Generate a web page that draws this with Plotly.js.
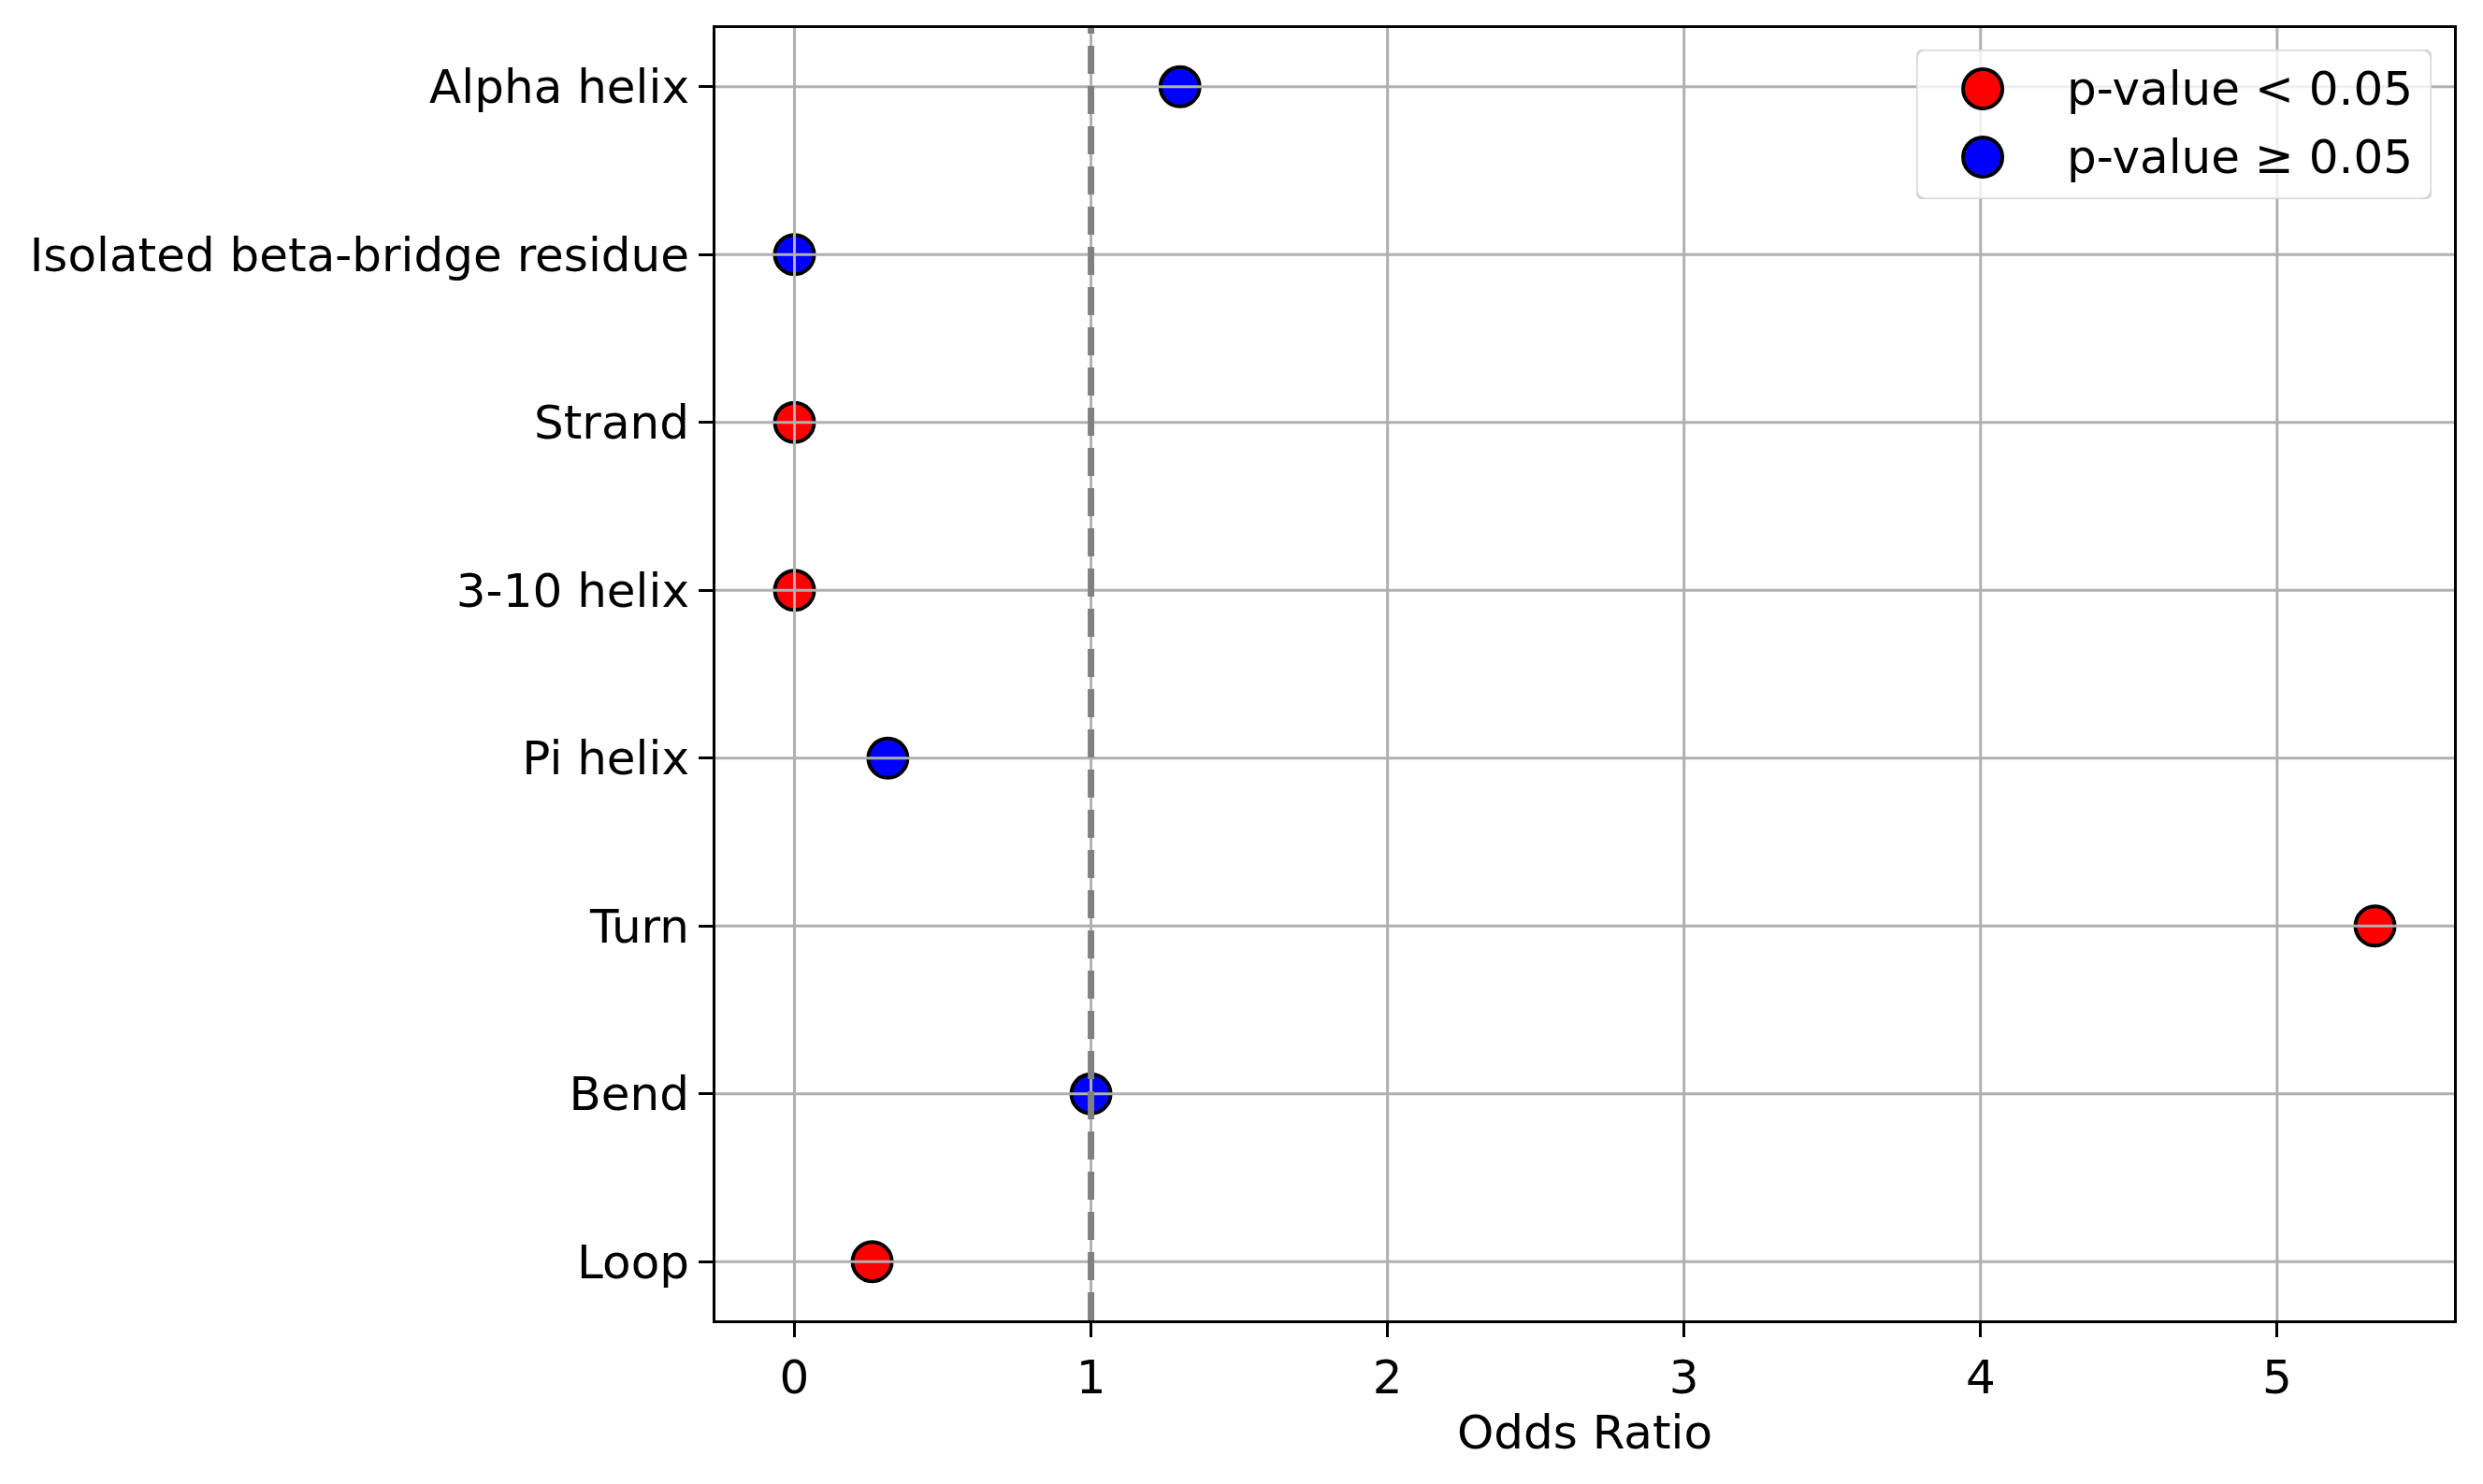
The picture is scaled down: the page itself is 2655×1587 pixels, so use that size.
<!DOCTYPE html>
<html>
<head>
<meta charset="utf-8">
<script src="https://cdn.plot.ly/plotly-3.0.1.min.js"></script>
<style>
  html, body { margin: 0; padding: 0; background: #ffffff; }
</style>
</head>
<body>
<div id="chart" style="width:2655px;height:1587px;"></div>
<script>
// Secondary structure odds ratios, top to bottom
const categories = ['Alpha helix', 'Isolated beta-bridge residue', 'Strand', '3-10 helix',
                    'Pi helix', 'Turn', 'Bend', 'Loop'];
const oddsRatio = [1.30, 0, 0, 0, 0.315, 5.33, 1.0, 0.262];
const significant = [false, false, true, true, false, true, false, true];
const xTicks = [0, 1, 2, 3, 4, 5];
const referenceOR = 1;

const legendLabels = ['p-value &lt; 0.05', 'p-value ≥ 0.05'];
const legendColors = ['#ff0000', '#0000ff'];

const FONT = 'DejaVu Sans, Liberation Sans, sans-serif';

// split points by significance
function pick(flag) {
  let x = [];
  let y = [];
  for (let i = 0; i < categories.length; i++) {
    if (significant[i] === flag) {
      x.push(oddsRatio[i]);
      y.push(categories[i]);
    }
  }
  return {x: x, y: y};
}

const sig = pick(true);
const nonsig = pick(false);

const markerStyle = function (color) {
  return {color: color, size: 42, line: {color: '#000000', width: 4}};
};

let data = [
  { x: sig.x, y: sig.y, type: 'scatter', mode: 'markers', name: 'p-value < 0.05',
    marker: markerStyle(legendColors[0]), showlegend: false },
  { x: nonsig.x, y: nonsig.y, type: 'scatter', mode: 'markers', name: 'p-value ≥ 0.05',
    marker: markerStyle(legendColors[1]), showlegend: false }
];

// grid drawn as shapes so it sits over the markers, like matplotlib does
const gridLine = {color: '#b0b0b0', width: 3};
let shapes = [];
for (const t of xTicks) {
  shapes.push({ type: 'line', xref: 'x', yref: 'paper', x0: t, x1: t, y0: 0, y1: 1,
    line: gridLine, layer: 'above' });
}
for (const c of categories) {
  shapes.push({ type: 'line', xref: 'paper', yref: 'y', x0: 0, x1: 1, y0: c, y1: c,
    line: gridLine, layer: 'above' });
}
shapes.push({ type: 'line', xref: 'x', yref: 'paper', x0: referenceOR, x1: referenceOR, y0: 0, y1: 1,
  line: {color: '#808080', width: 7, dash: '30px,13px'}, layer: 'above' });

// legend: rounded frame in its own small axes, then the keys on top
const rx = 0.02, ry = 0.07;
const framePath = 'M ' + rx + ',0 L ' + (1 - rx) + ',0 Q 1,0 1,' + ry +
  ' L 1,' + (1 - ry) + ' Q 1,1 ' + (1 - rx) + ',1 L ' + rx + ',1 Q 0,1 0,' + (1 - ry) +
  ' L 0,' + ry + ' Q 0,0 ' + rx + ',0 Z';
shapes.push({ type: 'path', xref: 'x2', yref: 'y2', path: framePath,
  fillcolor: 'rgba(255,255,255,0.8)', line: {color: '#d6d6d6', width: 3}, layer: 'above' });

const legendRows = [0.7375, 0.28125];
legendColors.forEach(function (col, i) {
  shapes.push({ type: 'circle', xref: 'x2', yref: 'y2', xsizemode: 'pixel', ysizemode: 'pixel',
    xanchor: 0.129, yanchor: legendRows[i], x0: -21, x1: 21, y0: -21, y1: 21,
    fillcolor: col, line: {color: '#000000', width: 4}, layer: 'above' });
});

const layout = {
  width: 2655,
  height: 1587,
  margin: {l: 765, r: 31, t: 30, b: 175, pad: 0},
  paper_bgcolor: '#ffffff',
  plot_bgcolor: '#ffffff',
  font: {family: FONT, size: 50, color: '#000000'},
  showlegend: false,
  xaxis: {
    range: [-0.2665, 5.5965],
    tickvals: xTicks,
    ticktext: xTicks.map(String),
    ticks: 'outside', ticklen: 15, tickwidth: 3, tickcolor: '#000000',
    showgrid: false,
    zeroline: false,
    showline: true, linecolor: '#000000', linewidth: 3, mirror: true,
    tickfont: {family: FONT, size: 50, color: '#000000'},
    title: {text: 'Odds Ratio', font: {family: FONT, size: 50, color: '#000000'}, standoff: 13}
  },
  yaxis: {
    type: 'category',
    categoryorder: 'array',
    categoryarray: categories,
    range: [categories.length - 1 + 0.35, -0.35],
    ticks: 'outside', ticklen: 15, tickwidth: 3, tickcolor: '#000000',
    showgrid: false,
    zeroline: false,
    showline: true, linecolor: '#000000', linewidth: 3, mirror: true,
    tickfont: {family: FONT, size: 50, color: '#000000'}
  },
  xaxis2: {domain: [0.6907, 0.9871], range: [0, 1], anchor: 'y2', visible: false, fixedrange: true},
  yaxis2: {domain: [0.8676, 0.9834], range: [0, 1], anchor: 'x2', visible: false, fixedrange: true},
  shapes: shapes,
  annotations: legendLabels.map(function (label, i) {
    return { xref: 'x2', yref: 'y2', x: 0.289, y: legendRows[i], text: label,
      showarrow: false, xanchor: 'left', yanchor: 'middle',
      font: {family: FONT, size: 50, color: '#000000'} };
  })
};

Plotly.newPlot('chart', data, layout, {staticPlot: true});
</script>
</body>
</html>
